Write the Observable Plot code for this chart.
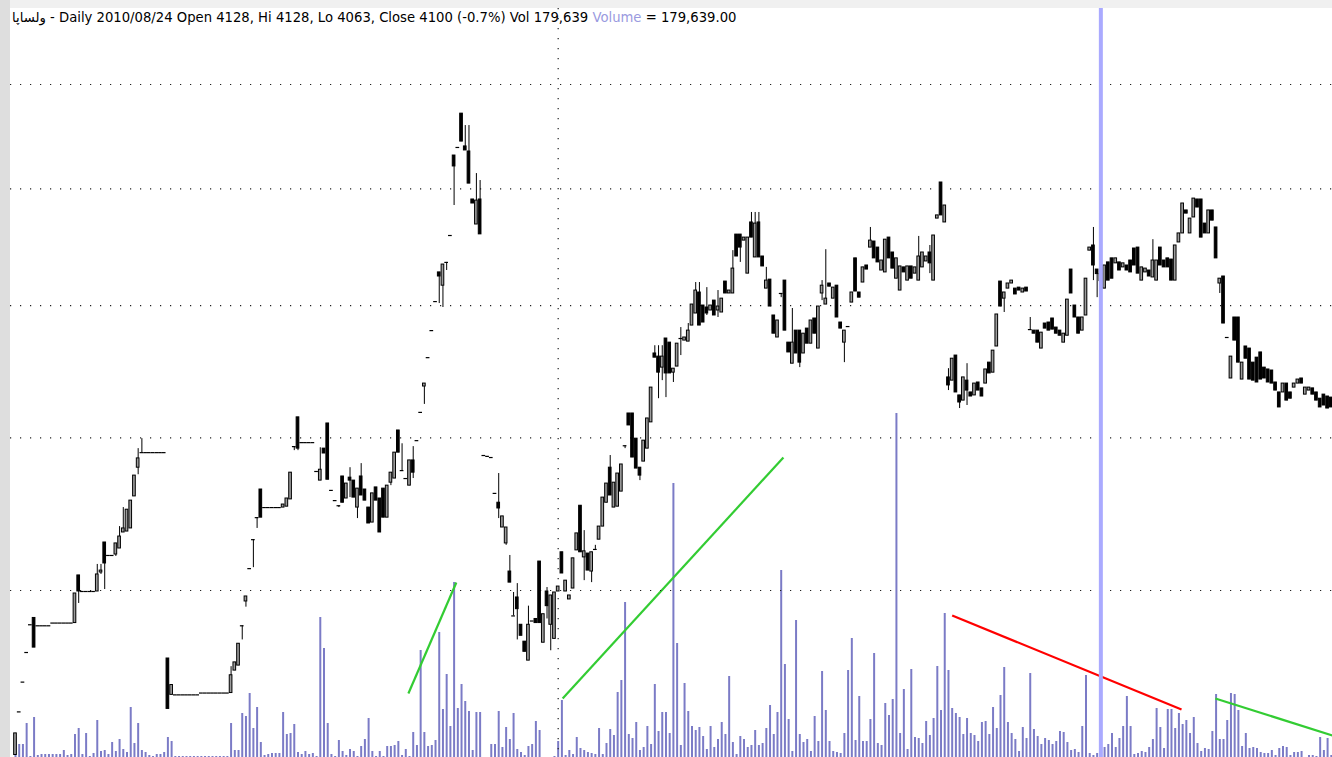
<!DOCTYPE html>
<html><head><meta charset="utf-8">
<script src="https://cdn.jsdelivr.net/npm/d3@7"></script>
<script src="https://cdn.jsdelivr.net/npm/@observablehq/plot@0.6"></script>
<style>
html,body{margin:0;padding:0;background:#fff;}
#stage{position:relative;width:1332px;height:757px;overflow:hidden;background:#fff;}
#topband{position:absolute;left:0;top:0;width:1332px;height:8px;background:#f0f0f0;}
#leftband{position:absolute;left:0;top:0;width:10px;height:757px;background:#dedede;}
.layer{position:absolute;left:0;top:0;}
.layer svg{background:transparent !important;display:block;max-width:none !important;}
#title{position:absolute;left:12px;top:10px;font-family:"DejaVu Sans",sans-serif;font-size:13.2px;color:#000;white-space:nowrap;line-height:16px;}
#title .vname{color:#9a9ae0;}
</style></head><body>
<div id="stage">
<div id="topband"></div>
<div id="leftband"></div>
<div id="vol" class="layer"></div>
<div id="price" class="layer"></div>
<div id="title"></div>
</div>
<script>
// ---- data (daily bars, index 0..354) ----
const ticker = "ولساپا";
const cursorDate = "2010/08/24";
const cursorIndex = 292;
const yearStartIndex = 146;
const gridPrices = [3000, 3500, 4000, 4500, 5000];

const open = [
2541,2654,2735,2818,2898,2918,2895,2895,2895,2895,
2903,2903,2903,2903,2903,2903,2903,3046,2997,2997,
2997,2997,2997,3055,3149,3108,3108,3111,3130,3181,
3184,3194,3299,3396,3448,3448,3448,3448,3448,3448,
3448,2801,2700,2700,2700,2700,2700,2700,2700,2700,
2705,2705,2705,2705,2705,2705,2705,2705,2705,2767,
2781,2895,2967,3067,3158,3229,3322,3262,3262,3262,
3262,3262,3262,3265,3289,3469,3573,3483,3483,3483,
3483,3383,3352,3462,3551,3319,3285,3268,3366,3292,
3362,3352,3262,3366,3322,3262,3213,3329,3292,3325,
3229,3345,3359,3526,3386,3359,3335,3421,3490,3591,
3686,3795,3900,4016,4136,4081,4178,4293,4654,4692,
4855,4697,4673,4452,4341,4452,3438,3435,3431,3309,
3278,3197,3146,3058,2924,2979,2898,2849,2795,2909,
2915,3089,2846,2997,2898,2857,2997,3118,2997,2973,
3006,3124,3268,3102,3114,3058,3127,3158,3200,3278,
3396,3262,3265,3315,3472,3587,3587,3497,3396,3417,
3462,3555,3811,3799,3757,3869,3853,3738,3761,3869,
3861,3857,3920,3968,4053,4000,3992,3980,4020,3980,
3972,4098,4049,4049,4297,4297,4271,4131,4350,4199,
4350,4203,4069,4106,3960,3873,4049,4102,3853,3772,
3900,3900,3811,3908,3849,3948,3830,4049,4004,4090,
4028,4081,3932,3853,3916,4012,4195,4053,4094,4165,
4241,4267,4241,4144,4136,4284,4220,4110,4061,4157,
4102,4161,4131,4102,4157,4182,4220,4102,4367,4529,
4350,3720,3708,3803,3653,3634,3708,3664,3653,3701,
3679,3697,3776,3738,3838,4098,4028,4069,4090,4069,
4073,4053,4073,3904,3900,3900,3830,3928,3932,3948,
3912,3900,3853,3880,4148,4000,3952,3900,3960,4228,
4250,4148,4128,4069,4178,4195,4174,4178,4157,4165,
4186,4237,4241,4102,4136,4144,4115,4102,4241,4186,
4195,4190,4102,4263,4302,4403,4302,4372,4452,4452,
4345,4302,4403,4328,4090,4119,3873,3716,3952,3952,
3712,3838,3830,3776,3795,3815,3757,3750,3746,3701,
3664,3664,3697,3664,3682,3697,3716,3656,3671,3679,
3664,3641,3656,3649,3645];

const high = [
2597,2654,2735,2818,2898,2918,2895,2895,2895,2895,
2903,2903,2903,2903,2903,2903,2991,3046,2997,2997,
2997,2997,3080,3080,3149,3108,3108,3146,3200,3262,
3255,3285,3369,3462,3497,3448,3448,3448,3448,3448,
3448,2801,2727,2700,2700,2700,2700,2700,2700,2700,
2705,2705,2705,2705,2705,2705,2705,2705,2778,2790,
2843,2895,2982,3067,3158,3229,3322,3262,3262,3262,
3262,3262,3272,3292,3379,3469,3573,3483,3483,3483,
3483,3383,3465,3462,3551,3319,3285,3268,3366,3342,
3396,3352,3325,3410,3322,3262,3309,3329,3292,3325,
3335,3379,3448,3526,3479,3359,3421,3469,3490,3591,
3697,3795,3900,4016,4136,4169,4178,4293,4654,4692,
4855,4797,4797,4452,4570,4538,3438,3435,3431,3309,
3376,3233,3197,3108,2994,3021,2898,2849,2953,2909,
2915,3089,2929,3009,2985,2994,3012,3118,3030,2985,
3099,3178,3268,3187,3114,3118,3140,3200,3295,3342,
3438,3345,3376,3407,3472,3587,3587,3497,3396,3490,
3569,3682,3841,3841,3841,3869,3853,3753,3849,3912,
3873,3928,4004,4094,4094,4000,4073,4000,4020,4061,
4028,4098,4061,4228,4297,4297,4284,4284,4394,4394,
4394,4203,4157,4106,3960,3940,4049,4102,3853,3988,
3900,3900,3888,3908,3940,3948,3996,4102,4232,4090,
4073,4081,3932,3900,3916,4053,4195,4053,4157,4165,
4328,4267,4241,4186,4275,4284,4220,4195,4161,4157,
4161,4161,4157,4289,4220,4203,4250,4293,4381,4529,
4425,3753,3791,3803,3653,3720,3772,3664,3697,3701,
3679,3750,3776,3822,3964,4098,4053,4090,4102,4069,
4073,4069,4073,3952,3900,3900,3892,3928,3932,3948,
3912,3900,3888,4024,4148,4000,3952,3952,4110,4241,
4328,4148,4128,4165,4178,4195,4195,4178,4174,4165,
4186,4237,4241,4157,4152,4144,4275,4186,4241,4186,
4195,4190,4250,4302,4434,4403,4367,4456,4452,4452,
4345,4403,4403,4328,4110,4119,3873,3799,3952,3952,
3776,3838,3830,3776,3795,3815,3757,3750,3746,3701,
3664,3697,3697,3664,3697,3712,3716,3682,3682,3679,
3664,3641,3656,3649,3645];

const low = [
2541,2654,2735,2818,2898,2832,2895,2895,2895,2895,
2903,2903,2903,2903,2903,2903,2903,2961,2997,2997,
2997,2997,2997,3049,3003,3108,3108,3105,3130,3181,
3184,3194,3299,3372,3448,3448,3448,3448,3448,3448,
3448,2662,2700,2700,2700,2700,2700,2700,2700,2700,
2705,2705,2705,2705,2705,2705,2705,2705,2705,2767,
2781,2854,2950,3067,3070,3194,3229,3262,3262,3262,
3262,3262,3262,3265,3289,3455,3455,3483,3483,3483,
3483,3383,3352,3445,3355,3319,3285,3262,3278,3292,
3295,3295,3226,3302,3285,3210,3213,3285,3181,3229,
3229,3335,3359,3448,3383,3359,3335,3359,3490,3591,
3620,3795,3900,4016,4008,3992,4144,4293,4425,4692,
4720,4678,4524,4434,4341,4298,3438,3435,3431,3309,
3226,3197,3140,3024,2924,2854,2866,2820,2795,2909,
2903,2903,2846,2915,2823,2857,2997,3052,2997,2973,
3006,3124,3118,3030,3061,3024,3127,3158,3200,3278,
3302,3262,3265,3315,3462,3544,3431,3393,3352,3417,
3462,3555,3795,3641,3708,3645,3735,3701,3761,3803,
3861,3857,3920,3968,3920,3932,3960,3980,3960,3952,
3972,4049,4049,4049,4203,4178,4271,4131,4284,4199,
4199,4161,4069,3996,3888,3873,4032,3900,3815,3772,
3811,3757,3811,3849,3849,3888,3830,4020,4004,4077,
4028,3952,3908,3776,3916,4012,4057,4032,4094,4148,
4241,4195,4178,4144,4136,4195,4152,4110,4061,4136,
4102,4110,4131,4102,4157,4182,4131,4102,4367,4381,
4350,3671,3708,3664,3605,3634,3616,3649,3653,3671,
3649,3697,3735,3738,3838,3996,3972,4069,4090,4045,
4061,4053,4057,3904,3888,3853,3830,3908,3900,3904,
3888,3880,3853,3880,4049,3952,3888,3900,3960,4228,
4102,4032,4063,4069,4102,4110,4174,4144,4157,4144,
4136,4165,4131,4102,4136,4119,4115,4102,4165,4157,
4157,4102,4102,4263,4302,4389,4302,4372,4416,4284,
4302,4302,4358,4195,4049,3928,3873,3716,3861,3776,
3712,3791,3712,3708,3701,3712,3716,3701,3697,3671,
3609,3664,3634,3641,3682,3697,3697,3656,3671,3656,
3634,3609,3616,3605,3609];

const close = [
2597,2654,2735,2818,2898,2832,2895,2895,2895,2895,
2903,2903,2903,2903,2903,2903,2991,2997,2997,2997,
2997,2997,3049,3061,3083,3108,3108,3146,3168,3194,
3255,3285,3369,3428,3448,3448,3448,3448,3448,3448,
3448,2662,2727,2700,2700,2700,2700,2700,2700,2700,
2705,2705,2705,2705,2705,2705,2705,2705,2754,2790,
2843,2895,2982,3067,3158,3229,3229,3262,3262,3262,
3262,3262,3272,3292,3379,3469,3462,3483,3483,3483,
3483,3383,3389,3445,3355,3319,3285,3268,3278,3342,
3352,3295,3325,3302,3285,3210,3309,3285,3181,3229,
3335,3379,3448,3448,3386,3359,3421,3379,3490,3591,
3697,3795,3900,4016,4119,4169,4178,4293,4603,4692,
4720,4678,4524,4434,4447,4298,3438,3435,3431,3309,
3259,3233,3197,3024,2924,2944,2866,2820,2898,2909,
2903,2903,2929,2953,2985,2994,3012,3052,3030,2985,
3099,3178,3118,3121,3061,3118,3127,3200,3295,3342,
3302,3345,3376,3407,3472,3544,3431,3393,3369,3490,
3569,3682,3795,3738,3799,3735,3735,3753,3849,3869,
3873,3900,4004,4061,3920,3932,3968,4000,3960,3996,
4028,4049,4061,4152,4203,4241,4284,4284,4284,4345,
4199,4161,4102,3996,3888,3940,4049,3900,3815,3853,
3811,3776,3888,3849,3940,3888,3996,4081,4028,4077,
4073,3952,3908,3900,3916,4053,4057,4032,4157,4148,
4271,4195,4178,4186,4275,4195,4152,4195,4161,4136,
4161,4110,4157,4203,4220,4203,4174,4293,4381,4381,
4425,3690,3791,3664,3627,3720,3671,3649,3697,3671,
3649,3750,3735,3822,3964,3996,4053,4090,4102,4045,
4061,4069,4057,3904,3888,3853,3892,3908,3900,3904,
3888,3880,3888,4024,4049,3952,3888,3952,4110,4241,
4165,4129,4100,4165,4102,4110,4195,4144,4174,4144,
4136,4165,4131,4157,4152,4119,4186,4186,4165,4157,
4157,4102,4250,4302,4434,4389,4367,4456,4416,4284,
4302,4403,4358,4195,4110,3928,3873,3799,3861,3776,
3776,3791,3712,3708,3701,3712,3716,3701,3697,3671,
3609,3697,3634,3641,3697,3712,3697,3682,3682,3656,
3634,3609,3616,3605,3609];

// volume, thousands of shares
const volumeK = [
800,520,520,1360,40,1600,80,120,120,120,
120,120,120,280,80,120,920,1160,120,960,
40,160,1480,240,280,120,600,240,720,320,
200,2000,560,1360,280,200,80,40,120,120,
200,800,640,40,40,40,40,40,40,40,
40,40,40,40,40,40,40,40,1360,280,
280,1760,1640,2560,1160,2000,600,80,120,160,
160,160,1800,920,960,1320,200,120,240,120,
160,40,5600,4360,1360,120,40,680,240,80,
320,240,40,440,720,1560,240,40,240,40,
440,440,480,640,80,320,40,1000,480,4280,
1000,440,480,680,5000,1920,3320,1240,7000,1960,
2920,2240,1840,280,1800,1800,0,0,520,520,
1840,400,1200,720,1760,320,200,80,440,520,
1440,1080,0,0,0,40,640,2280,80,280,
120,800,360,280,200,160,120,1160,120,560,
1120,880,2600,3080,6200,920,760,1400,280,400,
1240,520,2920,1040,1800,1800,960,10960,4560,480,
2960,1840,1240,1080,1200,840,320,1240,400,720,
1400,920,3240,600,120,840,720,400,480,1080,
480,560,1160,2080,920,1800,7480,3720,1520,240,
5480,920,600,720,240,1640,640,3440,1880,640,
240,200,160,960,3480,4760,680,2440,640,640,
1520,4160,560,480,2160,1680,2320,13760,960,2720,
320,3520,800,760,560,1440,880,1560,3640,1880,
5760,3480,1960,1760,1600,920,1560,960,880,640,
1400,1440,920,2000,1160,2480,3600,1400,960,720,
240,1200,760,3360,1120,840,520,760,680,520,
640,1040,1000,600,280,320,200,1240,3280,160,
80,160,179.639,400,520,960,400,760,1240,2440,
1240,120,160,240,200,400,720,1960,1200,360,
1920,1920,1160,1760,1320,1480,960,1600,560,240,
360,320,1040,2520,720,720,1480,2560,2520,1880,
440,960,360,400,360,200,160,160,280,80,
360,440,400,80,200,200,240,0,80,80,
40,800,280,760,80];

// volume trend lines (bar index, volume K)
const trendFromIndex = [105.7, 147.2, 252.0, 322.8];
const trendFromVolK  = [2560, 2360, 5680, 2360];
const trendToIndex   = [118.6, 206.6, 313.7, 354.3];
const trendToVolK    = [7000, 12000, 1920, 880];
const trendColor     = ["#33cc33", "#33cc33", "#ff0000", "#33cc33"];

// ---- build ----
const bars = open.map((o, i) => ({i, open: o, high: high[i], low: low[i], close: close[i], vol: volumeK[i]}));
const trends = trendFromIndex.map((x, k) => ({x1: x, v1: trendFromVolK[k], x2: trendToIndex[k], v2: trendToVolK[k], color: trendColor[k]}));

const W = 1332, H = 757;
const common = {
  width: W, height: H, marginLeft: 10, marginRight: 0, marginTop: 8, marginBottom: 0,
  x: {domain: [-1.345, 354.32], axis: null},
  style: "background:transparent;overflow:visible;"
};

const volPlot = Plot.plot({
  ...common,
  y: {domain: [0, 29960], axis: null},
  marks: [
    Plot.ruleX(bars.filter(d => d.vol > 0), {x: "i", y1: 0, y2: "vol", stroke: "#7b7bc6", strokeWidth: 2}),
    Plot.link(trends, {x1: "x1", y1: "v1", x2: "x2", y2: "v2", stroke: "color", strokeWidth: 2.2})
  ]
});
document.getElementById("vol").appendChild(volPlot);

const dotted = {stroke: "#222", strokeWidth: 1.2, strokeDasharray: "1.2,8.8"};
const pricePlot = Plot.plot({
  ...common,
  y: {type: "log", domain: [2534.6, 5398.7], axis: null},
  marks: [
    Plot.ruleY(gridPrices, dotted),
    Plot.ruleX([yearStartIndex], dotted),
    Plot.ruleX(bars.filter(d => d.high > d.low), {x: "i", y1: "low", y2: "high", stroke: "#000", strokeWidth: 1}),
    Plot.rect(bars.filter(d => d.open !== d.close), {
      x1: d => d.i - 0.36, x2: d => d.i + 0.36, y1: "open", y2: "close",
      fill: d => d.close > d.open ? "#9c9c9c" : "#000", stroke: "#000", strokeWidth: 1
    }),
    Plot.ruleY(bars.filter(d => d.open === d.close), {y: "close", x1: d => d.i - 0.5, x2: d => d.i + 0.5, stroke: "#000", strokeWidth: 1.2}),
    Plot.ruleX([cursorIndex], {stroke: "#aaaaff", strokeWidth: 4})
  ]
});
document.getElementById("price").appendChild(pricePlot);

// ---- title ----
const cb = bars[cursorIndex];
const prevClose = close[cursorIndex - 1];
const pct = ((cb.close - prevClose) / prevClose * 100).toFixed(1);
const volShares = Math.round(cb.vol * 1000);
const fmt = d3.format(",");
const title = document.getElementById("title");
const s1 = document.createElement("span");
const ar = document.createElement("bdi");
ar.textContent = ticker;
s1.appendChild(ar);
s1.appendChild(document.createTextNode(` - Daily ${cursorDate} Open ${cb.open}, Hi ${cb.high}, Lo ${cb.low}, Close ${cb.close} (${pct}%) Vol ${fmt(volShares)} `));
const s2 = document.createElement("span");
s2.className = "vname";
s2.textContent = "Volume";
const s3 = document.createElement("span");
s3.textContent = ` = ${d3.format(",.2f")(volShares)}`;
title.appendChild(s1); title.appendChild(s2); title.appendChild(s3);
</script>
</body></html>
